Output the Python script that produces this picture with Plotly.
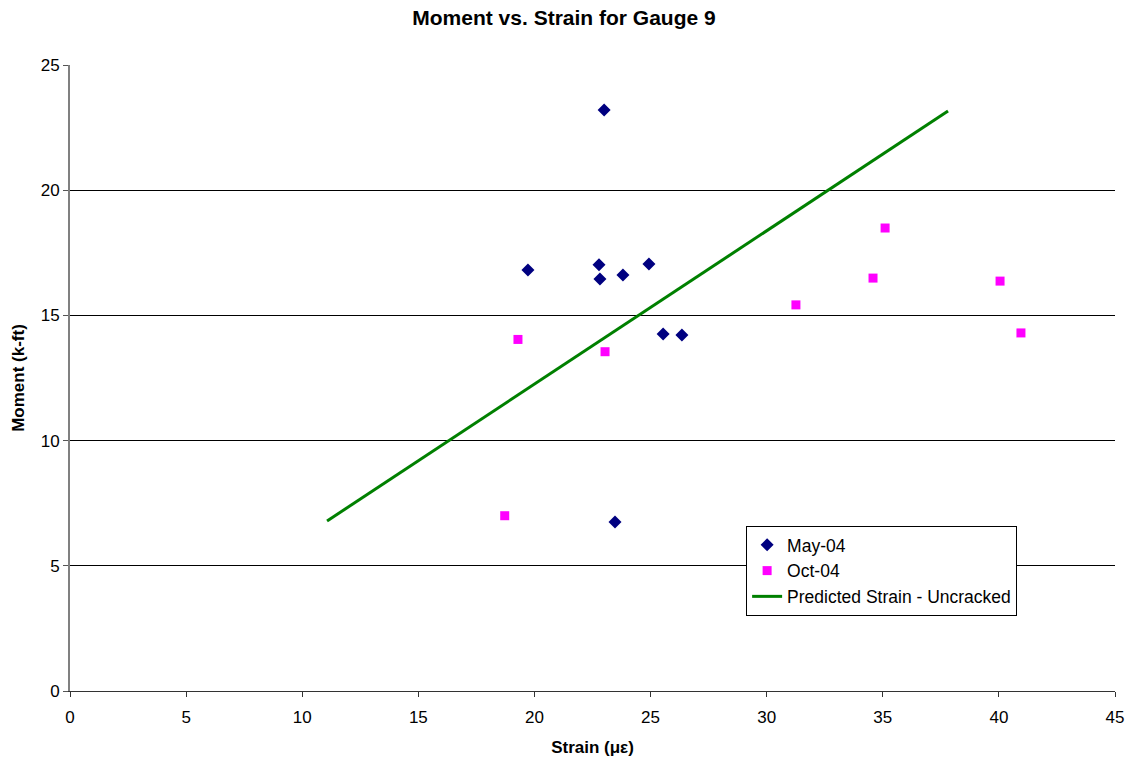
import plotly.graph_objects as go

# May-04 load test readings
may_strain = [23.0, 19.72, 22.78, 22.82, 23.81, 24.93, 25.54, 26.35, 23.47]
may_moment = [23.2, 16.81, 17.02, 16.45, 16.61, 17.05, 14.26, 14.22, 6.75]

# Oct-04 load test readings
oct_strain = [19.29, 23.04, 18.72, 31.26, 34.58, 35.1, 40.05, 40.95]
oct_moment = [14.04, 13.55, 7.0, 15.42, 16.49, 18.49, 16.37, 14.3]

# Predicted strain, uncracked section
pred_strain = [11.07, 37.81]
pred_moment = [6.79, 23.16]

x_ticks = [0, 5, 10, 15, 20, 25, 30, 35, 40, 45]
y_ticks = [0, 5, 10, 15, 20, 25]

fig = go.Figure()
fig.add_trace(go.Scatter(
    x=may_strain, y=may_moment, mode="markers", name="May-04",
    marker=dict(symbol="diamond", size=10, color="#000080"),
))
fig.add_trace(go.Scatter(
    x=oct_strain, y=oct_moment, mode="markers", name="Oct-04",
    marker=dict(symbol="square", size=9, color="#FF00FF"),
))
fig.add_trace(go.Scatter(
    x=pred_strain, y=pred_moment, mode="lines", name="Predicted Strain - Uncracked",
    line=dict(color="#008000", width=3),
))

fig.update_layout(
    width=1128, height=759,
    margin=dict(l=70, r=13, t=65, b=68),
    paper_bgcolor="white", plot_bgcolor="white",
    font=dict(family="Arial, Liberation Sans, sans-serif", size=16, color="black"),
    title=dict(text="<b>Moment vs. Strain for Gauge 9</b>", x=0.5, xanchor="center",
               y=0.977, yanchor="middle", font=dict(size=21)),
    xaxis=dict(
        range=[0, 45], tickvals=x_ticks, showgrid=False, zeroline=False,
        showline=True, linecolor="#333333", linewidth=1,
        ticks="outside", ticklen=5, tickcolor="#333333",
        tickfont=dict(size=17), automargin=False, ticklabelstandoff=6,
        title=dict(text="<b>Strain (με)</b>", font=dict(size=17), standoff=14),
    ),
    yaxis=dict(
        range=[0, 25], tickvals=y_ticks, showgrid=True, gridcolor="black", gridwidth=1,
        zeroline=False, showline=True, linecolor="#808080", linewidth=2,
        ticks="outside", ticklen=5, tickcolor="#555555",
        tickfont=dict(size=17), automargin=False,
        title=dict(text="<b>Moment (k-ft)</b>", font=dict(size=17), standoff=12),
    ),
    legend=dict(
        x=0.647, y=0.2636, xanchor="left", yanchor="top",
        bgcolor="white", bordercolor="black", borderwidth=1,
        font=dict(size=17.5), tracegroupgap=0,
    ),
)

fig.write_html("out.html")
